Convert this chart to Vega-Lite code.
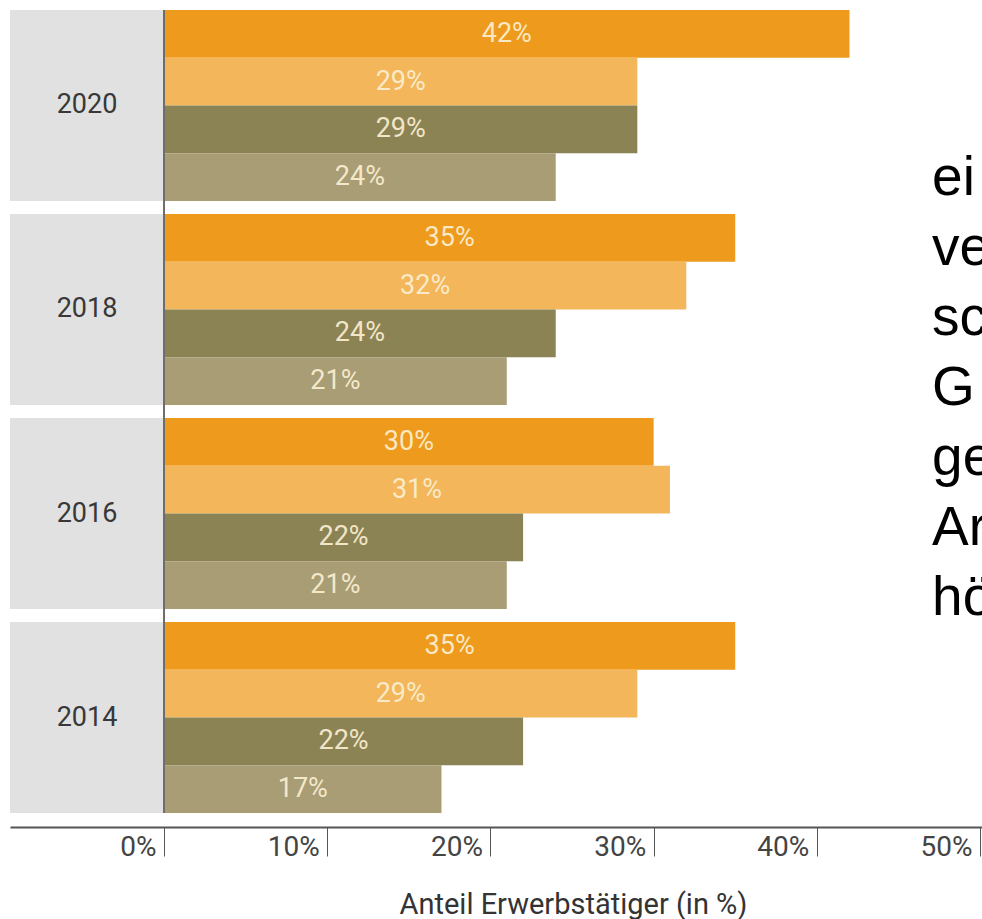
{
  "$schema": "https://vega.github.io/schema/vega-lite/v6.json",
  "width": 972,
  "height": 803,
  "autosize": "none",
  "padding": {"left": 10, "top": 10, "right": 0, "bottom": 106},
  "background": "#ffffff",
  "config": {"view": {"stroke": null}},
  "datasets": {
    "bars": [
      {"year": "2020", "series": "Reihe 1", "value": 42, "label": "42%"},
      {"year": "2020", "series": "Reihe 2", "value": 29, "label": "29%"},
      {"year": "2020", "series": "Reihe 3", "value": 29, "label": "29%"},
      {"year": "2020", "series": "Reihe 4", "value": 24, "label": "24%"},
      {"year": "2018", "series": "Reihe 1", "value": 35, "label": "35%"},
      {"year": "2018", "series": "Reihe 2", "value": 32, "label": "32%"},
      {"year": "2018", "series": "Reihe 3", "value": 24, "label": "24%"},
      {"year": "2018", "series": "Reihe 4", "value": 21, "label": "21%"},
      {"year": "2016", "series": "Reihe 1", "value": 30, "label": "30%"},
      {"year": "2016", "series": "Reihe 2", "value": 31, "label": "31%"},
      {"year": "2016", "series": "Reihe 3", "value": 22, "label": "22%"},
      {"year": "2016", "series": "Reihe 4", "value": 21, "label": "21%"},
      {"year": "2014", "series": "Reihe 1", "value": 35, "label": "35%"},
      {"year": "2014", "series": "Reihe 2", "value": 29, "label": "29%"},
      {"year": "2014", "series": "Reihe 3", "value": 22, "label": "22%"},
      {"year": "2014", "series": "Reihe 4", "value": 17, "label": "17%"}
    ],
    "years": [
      {"year": "2020"}, {"year": "2018"}, {"year": "2016"}, {"year": "2014"}
    ],
    "note": [
      {"lines": ["ei", "ve", "sc", "G", "ge", "Ar", "hö"]}
    ]
  },
  "resolve": {"scale": {"x": "independent"}},
  "layer": [
    {
      "layer": [
        {
          "data": {"name": "years"},
          "mark": {"type": "bar", "color": "#e1e1e1"},
          "encoding": {
            "y": {"field": "year", "type": "nominal", "sort": null, "axis": null,
                  "scale": {"domain": ["2020", "2018", "2016", "2014"], "paddingInner": 0.064, "paddingOuter": 0}},
            "x": {"datum": -9.44, "type": "quantitative",
                  "scale": {"domain": [-9.44, 50.12], "nice": false, "zero": false},
                  "axis": {
                    "values": [0, 10, 20, 30, 40, 50],
                    "labelExpr": "datum.value + '%'",
                    "offset": 14,
                    "grid": false,
                    "domainColor": "#555555",
                    "domainWidth": 2,
                    "tickColor": "#555555",
                    "tickWidth": 1,
                    "tickSize": 29,
                    "labelAlign": "right",
                    "labelBaseline": "middle",
                    "labelPadding": -9,
                    "labelOffset": -8,
                    "labelFont": "Roboto",
                    "labelFontSize": 28,
                    "labelColor": "#444444",
                    "labelFlush": false,
                    "labelOverlap": false,
                    "title": "Anteil Erwerbstätiger (in %)",
                    "titleFont": "Roboto",
                    "titleFontSize": 29,
                    "titleFontWeight": "normal",
                    "titleColor": "#333333",
                    "titleX": 563,
                    "titleY": 86,
                    "titleAlign": "center",
                    "titleBaseline": "alphabetic"
                  }},
            "x2": {"datum": -0.06}
          }
        },
        {
          "data": {"name": "bars"},
          "mark": {"type": "bar"},
          "encoding": {
            "y": {"field": "year", "type": "nominal", "sort": null, "axis": null},
            "yOffset": {"field": "series", "type": "nominal", "sort": null,
                        "scale": {"domain": ["Reihe 1", "Reihe 2", "Reihe 3", "Reihe 4"], "paddingInner": 0, "paddingOuter": 0}},
            "x": {"field": "value", "type": "quantitative"},
            "x2": {"datum": 0},
            "color": {"field": "series", "type": "nominal", "legend": null,
                      "scale": {"domain": ["Reihe 1", "Reihe 2", "Reihe 3", "Reihe 4"],
                                "range": ["#ee9a1c", "#f3b65a", "#8c8355", "#a89d74"]}}
          }
        },
        {
          "data": {"name": "years"},
          "mark": {"type": "rule", "color": "#6e6e6e", "strokeWidth": 1.5},
          "encoding": {
            "x": {"datum": 0, "type": "quantitative"}
          }
        },
        {
          "data": {"name": "years"},
          "mark": {"type": "text", "font": "Roboto", "fontSize": 27, "color": "#383838", "align": "center", "baseline": "middle"},
          "encoding": {
            "y": {"field": "year", "type": "nominal", "sort": null},
            "x": {"datum": -4.72, "type": "quantitative"},
            "text": {"field": "year", "type": "nominal"}
          }
        },
        {
          "data": {"name": "note"},
          "mark": {"type": "text", "font": "Liberation Sans", "fontSize": 55, "lineHeight": 70, "color": "#000000", "align": "left", "baseline": "alphabetic"},
          "encoding": {
            "y": {"datum": "2020", "type": "nominal", "bandPosition": 0.97},
            "x": {"datum": 47.06, "type": "quantitative"},
            "text": {"field": "lines", "type": "nominal"}
          }
        }
      ]
    },
    {
      "data": {"name": "bars"},
      "mark": {"type": "text", "font": "Roboto", "fontSize": 27, "color": "#fbefd2", "opacity": 0.92, "align": "center", "baseline": "middle"},
      "encoding": {
        "y": {"field": "year", "type": "nominal", "sort": null},
        "yOffset": {"field": "series", "type": "nominal", "sort": null},
        "x": {"field": "value", "type": "quantitative",
              "scale": {"domain": [-18.88, 100.24], "nice": false, "zero": false}, "axis": null},
        "text": {"field": "label", "type": "nominal"}
      }
    }
  ]
}
